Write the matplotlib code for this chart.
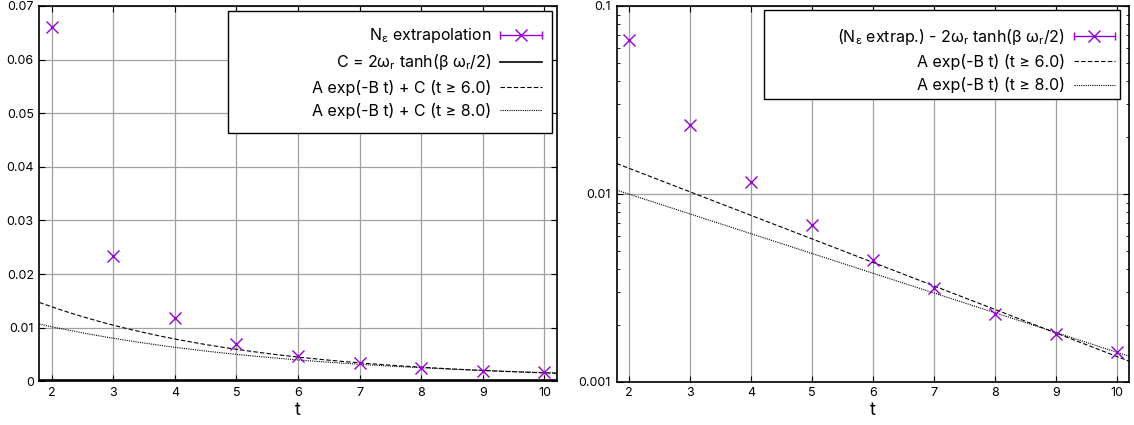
import numpy as np
import matplotlib
matplotlib.use("Agg")
import matplotlib.pyplot as plt
from matplotlib.lines import Line2D
from matplotlib.patches import Rectangle
from matplotlib.legend_handler import HandlerBase

plt.rcParams['font.family'] = ['Inter', 'DejaVu Sans']
plt.rcParams['mathtext.fontset'] = 'custom'
plt.rcParams['mathtext.rm'] = 'Inter'
plt.rcParams['mathtext.it'] = 'Inter'

# данные
t = [2, 3, 4, 5, 6, 7, 8, 9, 10]
# (N_eps extrap.) - C
n_minus_c = [0.0659, 0.0232, 0.0116, 0.00684, 0.00445, 0.00317, 0.00231, 0.00179, 0.00145]
C = 0.0002
n_extrap = [v + C for v in n_minus_c]

# параметры фитов A exp(-B t)
fit6 = (0.02439, 0.2884)
fit8 = (0.01620, 0.2423)

yticks_lin = [0, 0.01, 0.02, 0.03, 0.04, 0.05, 0.06, 0.07]
ylabels_lin = ["0", "0.01", "0.02", "0.03", "0.04", "0.05", "0.06", "0.07"]
yticks_log = [0.001, 0.01, 0.1]
ylabels_log = ["0.001", "0.01", "0.1"]

purple = '#9400D3'
grid_c = '#a0a0a0'


class ErrHandler(HandlerBase):
    # gnuplot-style легенда: |--x--|
    def create_artists(self, legend, orig_handle, xdescent, ydescent,
                       width, height, fontsize, trans):
        y = (height - ydescent) / 2
        x0, x1 = -xdescent, width - xdescent
        line = Line2D([x0, x1], [y, y], color=purple, lw=1.0, transform=trans)
        caps = Line2D([x0, x1], [y, y], ls='none', marker='|', ms=6, mew=1.0,
                      color=purple, transform=trans)
        mk = Line2D([(x0 + x1) / 2], [y], ls='none', marker='x', ms=8, mew=1.0,
                    color=purple, transform=trans)
        return [line, caps, mk]


def style_axes(ax):
    ax.set_xlim(1.8, 10.2)
    ax.set_xticks(t)
    ax.tick_params(which='both', direction='in', top=True, right=True,
                   labelsize=9, colors='black')
    ax.tick_params(which='major', length=4, width=0.8, pad=4)
    ax.tick_params(which='minor', length=2, width=0.6)
    ax.grid(True, which='major', color=grid_c, lw=0.9)
    ax.set_axisbelow(True)
    for s in ax.spines.values():
        s.set_linewidth(1.2)
    ax.set_xlabel("t", fontsize=13, labelpad=2)


fig = plt.figure(figsize=(11.34, 4.25), dpi=100)
ax1 = fig.add_axes([0.0347, 0.1028, 0.4563, 0.8831])
ax2 = fig.add_axes([0.5438, 0.1014, 0.4521, 0.8845])

tt = np.linspace(1.8, 10.2, 300)
dash = (0, (4, 2))
dot = (0, (1, 1))

# Левый график
ax1.plot(t, n_extrap, ls='none', marker='x', ms=8, mew=1.0, color=purple, zorder=5)
ax1.axhline(C, color='black', lw=1.2, zorder=3)
ax1.plot(tt, fit6[0] * np.exp(-fit6[1] * tt) + C, color='black', lw=0.8, ls=dash)
ax1.plot(tt, fit8[0] * np.exp(-fit8[1] * tt) + C, color='black', lw=0.8, ls=dot)
ax1.set_ylim(0, 0.07)
ax1.set_yticks(yticks_lin)
ax1.set_yticklabels(ylabels_lin)
style_axes(ax1)

h1 = [Line2D([], []),
      Line2D([], [], color='black', lw=1.2),
      Line2D([], [], color='black', lw=0.8, ls=dash),
      Line2D([], [], color='black', lw=0.8, ls=dot)]
l1 = [r"N$_{\mathrm{ε}}$ extrapolation",
      r"C = 2ω$_{\mathrm{r}}$ tanh(β ω$_{\mathrm{r}}$/2)",
      "A exp(-B t) + C (t ≥ 6.0)",
      "A exp(-B t) + C (t ≥ 8.0)"]
ax1.legend(h1, l1, loc='center right', bbox_to_anchor=(0.971, 1 - (72.5 - 6) / 375.3),
           frameon=False, markerfirst=False, fontsize=11.5, handlelength=2.6,
           handletextpad=0.55, labelspacing=0.45, borderpad=0, borderaxespad=0,
           handler_map={h1[0]: ErrHandler()})
ax1.add_patch(Rectangle((0.3647, 0.6608), 0.9915 - 0.3647, 0.9875 - 0.6608,
                        transform=ax1.transAxes, fill=True, facecolor='white',
                        edgecolor='black', lw=1.0, zorder=4))

# Правый график (лог)
ax2.plot(t, n_minus_c, ls='none', marker='x', ms=8, mew=1.0, color=purple, zorder=5)
ax2.plot(tt, fit6[0] * np.exp(-fit6[1] * tt), color='black', lw=0.8, ls=dash)
ax2.plot(tt, fit8[0] * np.exp(-fit8[1] * tt), color='black', lw=0.8, ls=dot)
ax2.set_yscale('log')
ax2.set_ylim(0.001, 0.1)
ax2.set_yticks(yticks_log)
ax2.set_yticklabels(ylabels_log)
style_axes(ax2)

h2 = [Line2D([], []),
      Line2D([], [], color='black', lw=0.8, ls=dash),
      Line2D([], [], color='black', lw=0.8, ls=dot)]
l2 = [r"(N$_{\mathrm{ε}}$ extrap.) - 2ω$_{\mathrm{r}}$ tanh(β ω$_{\mathrm{r}}$/2)",
      "A exp(-B t) (t ≥ 6.0)",
      "A exp(-B t) (t ≥ 8.0)"]
ax2.legend(h2, l2, loc='center right', bbox_to_anchor=(0.9721, 1 - (60 - 6) / 375.7),
           frameon=False, markerfirst=False, fontsize=11.5, handlelength=2.6,
           handletextpad=0.55, labelspacing=0.45, borderpad=0, borderaxespad=0,
           handler_map={h2[0]: ErrHandler()})
ax2.add_patch(Rectangle((0.2874, 0.7517), 0.9819 - 0.2874, 0.9894 - 0.7517,
                        transform=ax2.transAxes, fill=True, facecolor='white',
                        edgecolor='black', lw=1.0, zorder=4))

fig.savefig("out.png", dpi=100)
